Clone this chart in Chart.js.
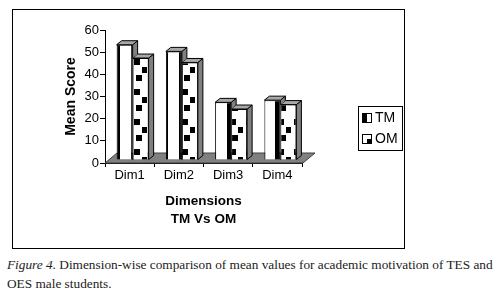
<!DOCTYPE html>
<html>
<head>
<meta charset="utf-8">
<script src="https://cdn.jsdelivr.net/npm/chart.js"></script>
<style>
  html, body { margin: 0; padding: 0; background: #fff; }
  #wrap { position: relative; width: 500px; height: 293px; overflow: hidden; }
  #chart { position: absolute; left: 0; top: 0; }
  #caption {
    position: absolute; left: 7px; top: 255px;
    font-family: 'Liberation Serif', serif; font-size: 13.3px; line-height: 19px;
    color: #222; white-space: nowrap;
  }
</style>
</head>
<body>
<div id="wrap">
  <canvas id="chart" width="500" height="250"></canvas>
  <div id="caption"><i>Figure 4.</i> Dimension-wise comparison of mean values for academic motivation of TES and<br>OES male students.</div>
</div>
<script>
// data
const categories = ['Dim1', 'Dim2', 'Dim3', 'Dim4'];
const tmValues = [52, 49, 26, 27];
const omValues = [46, 44, 23, 25];
const seriesNames = ['TM', 'OM'];

const DX = 5, DY = -4;     // bar depth
const RECESS = 3;          // bars sit a little behind the floor front edge

// fill patterns
function stripePattern() {
    const c = document.createElement('canvas');
    c.width = 16; c.height = 2;
    const g = c.getContext('2d');
    g.fillStyle = '#fff'; g.fillRect(0, 0, 16, 2);
    g.fillStyle = '#000'; g.fillRect(0, 0, 5, 2);
    return g.createPattern(c, 'repeat');
}
function checkPattern() {
    const c = document.createElement('canvas');
    c.width = 16; c.height = 30;
    const g = c.getContext('2d');
    g.fillStyle = '#fff'; g.fillRect(0, 0, 16, 30);
    g.fillStyle = '#000';
    g.fillRect(3, 2, 6, 6);
    g.fillRect(11, 10, 5, 6);
    g.fillRect(5, 18, 6, 6);
    return g.createPattern(c, 'repeat');
}

function silhouette(ctx, el) {
    const l = el.x - el.width / 2, r = el.x + el.width / 2;
    ctx.moveTo(l, el.base);
    ctx.lineTo(l, el.y);
    ctx.lineTo(l + DX, el.y + DY);
    ctx.lineTo(r + DX, el.y + DY);
    ctx.lineTo(r + DX, el.base + DY);
    ctx.lineTo(r, el.base);
    ctx.closePath();
}

function drawFaces(ctx, el) {
    const l = el.x - el.width / 2, r = el.x + el.width / 2;
    ctx.lineWidth = 1;
    ctx.strokeStyle = '#000';
    // side
    ctx.beginPath();
    ctx.moveTo(r, el.y);
    ctx.lineTo(r + DX, el.y + DY);
    ctx.lineTo(r + DX, el.base + DY);
    ctx.lineTo(r, el.base);
    ctx.closePath();
    ctx.fillStyle = '#808080';
    ctx.fill(); ctx.stroke();
    // top
    ctx.beginPath();
    ctx.moveTo(l, el.y);
    ctx.lineTo(l + DX, el.y + DY);
    ctx.lineTo(r + DX, el.y + DY);
    ctx.lineTo(r, el.y);
    ctx.closePath();
    ctx.fillStyle = '#a8a8a8';
    ctx.fill(); ctx.stroke();
}

const bars3d = {
    id: 'bars3d',
    beforeDatasetsDraw(chart) {
        const ctx = chart.ctx;
        const x = chart.scales.x, y = chart.scales.y;
        const y0 = y.getPixelForValue(0);
        // floor
        ctx.save();
        ctx.beginPath();
        ctx.moveTo(x.left, y0);
        ctx.lineTo(x.right + 1, y0);
        ctx.lineTo(x.right + 13, y0 - 10);
        ctx.lineTo(x.left + 12, y0 - 10);
        ctx.closePath();
        ctx.fillStyle = '#808080';
        ctx.fill();
        ctx.strokeStyle = '#404040';
        ctx.lineWidth = 1;
        ctx.stroke();
        ctx.restore();
        ctx.save();
        ctx.translate(RECESS, -RECESS);
    },
    afterDatasetDraw(chart, args) {
        const ctx = chart.ctx;
        const meta = args.meta;
        const other = chart.getDatasetMeta(args.index === 0 ? 1 : 0);
        meta.data.forEach((el, i) => {
            ctx.save();
            if (args.index === 0 && other.data[i]) {
                // TM faces are hidden behind the OM bar next to it
                ctx.beginPath();
                ctx.rect(-50, -50, chart.width + 100, chart.height + 100);
                silhouette(ctx, other.data[i]);
                ctx.clip('evenodd');
            }
            drawFaces(ctx, el);
            ctx.restore();
        });
    },
    afterDatasetsDraw(chart) {
        chart.ctx.restore();
    },
    afterDraw(chart) {
        const ctx = chart.ctx;
        ctx.save();
        ctx.strokeStyle = '#000';
        ctx.lineWidth = 1;
        // outer frame
        ctx.strokeRect(12.5, 9.5, 392, 239);
        // legend
        ctx.strokeRect(358.5, 106.5, 44, 44);
        ctx.fillStyle = '#fff';
        ctx.fillRect(362.5, 113.5, 9, 9);
        ctx.fillStyle = '#000';
        ctx.fillRect(362.5, 113.5, 4.5, 9);
        ctx.strokeRect(362.5, 113.5, 9, 9);
        ctx.fillStyle = '#fff';
        ctx.fillRect(362.5, 134.5, 9, 9);
        ctx.fillStyle = '#000';
        ctx.fillRect(367, 139, 4.5, 4.5);
        ctx.strokeRect(362.5, 134.5, 9, 9);
        ctx.font = '14px "Liberation Sans"';
        ctx.textBaseline = 'middle';
        ctx.fillText(seriesNames[0], 375, 118.5);
        ctx.fillText(seriesNames[1], 375, 139.5);
        ctx.restore();
    }
};

Chart.defaults.font.family = '"Liberation Sans", Arial, sans-serif';
Chart.defaults.color = '#000';

new Chart(document.getElementById('chart').getContext('2d'), {
    type: 'bar',
    data: {
        labels: categories,
        datasets: [{
            label: seriesNames[0],
            data: tmValues,
            backgroundColor: stripePattern(),
            borderColor: '#000',
            borderWidth: 1,
            barPercentage: 1,
            categoryPercentage: 0.65
        }, {
            label: seriesNames[1],
            data: omValues,
            backgroundColor: checkPattern(),
            borderColor: '#000',
            borderWidth: 1,
            barPercentage: 1,
            categoryPercentage: 0.65
        }]
    },
    options: {
        responsive: false,
        animation: false,
        layout: { padding: { left: 0, top: 30, right: 198, bottom: 0 } },
        plugins: {
            legend: { display: false },
            tooltip: { enabled: false }
        },
        scales: {
            x: {
                afterFit(scale) { scale.height = 87; },
                grid: { drawOnChartArea: false, tickLength: 4, color: '#000' },
                border: { color: '#000' },
                ticks: { font: { size: 13 }, padding: 1 },
                title: {
                    display: true,
                    text: ['Dimensions', 'TM Vs OM'],
                    font: { size: 13.5, weight: 'bold', lineHeight: '18px' },
                    padding: { top: 0, bottom: 22 }
                }
            },
            y: {
                min: 0,
                max: 60,
                afterFit(scale) { scale.width = 105; },
                grid: { drawOnChartArea: false, tickLength: 5, color: '#000' },
                border: { color: '#000' },
                ticks: { stepSize: 10, font: { size: 13 }, padding: 1 },
                title: {
                    display: true,
                    text: 'Mean Score',
                    font: { size: 14, weight: 'bold' },
                    padding: { top: 63, bottom: 0 }
                }
            }
        }
    },
    plugins: [bars3d]
});
</script>
</body>
</html>
